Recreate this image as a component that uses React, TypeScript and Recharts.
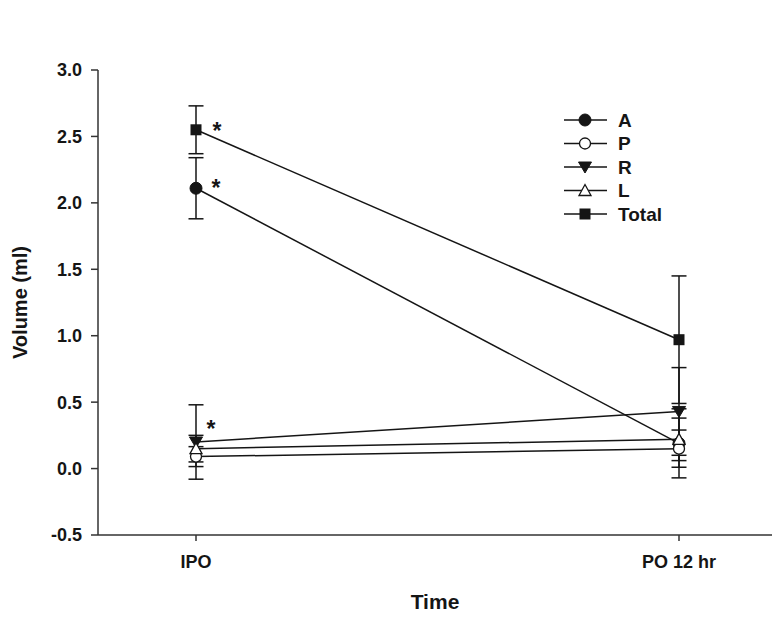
import { LineChart, Line, XAxis, YAxis, ErrorBar, Legend, LabelList } from "recharts";

// time points
const times = ["IPO", "PO 12 hr"];

// mean volumes (ml) and error values per region
const aVals = [2.11, 0.19];
const aErr = [0.23, 0.26];
const pVals = [0.09, 0.15];
const pErr = [0.075, 0.14];
const rVals = [0.2, 0.43];
const rErr = [0.28, 0.33];
const lVals = [0.15, 0.22];
const lErr = [0.1, 0.16];
const totalVals = [2.55, 0.97];
const totalErr = [0.18, 0.48];

// significance marks
const aStar = ["*", ""];
const rStar = ["*", ""];
const totalStar = ["*", ""];

const yTicks = [-0.5, 0, 0.5, 1, 1.5, 2, 2.5, 3];

const data = times.map((t, i) => ({
  time: t,
  A: aVals[i],
  AErr: aErr[i],
  AStar: aStar[i],
  P: pVals[i],
  PErr: pErr[i],
  R: rVals[i],
  RErr: rErr[i],
  RStar: rStar[i],
  L: lVals[i],
  LErr: lErr[i],
  Total: totalVals[i],
  TotalErr: totalErr[i],
  TotalStar: totalStar[i],
}));

const FONT = "'Liberation Sans', Arial, Helvetica, sans-serif";
const INK = "#151515";

type Shape = "circle" | "openCircle" | "down" | "up" | "square";

const series: { key: string; name: string; shape: Shape }[] = [
  { key: "A", name: "A", shape: "circle" },
  { key: "P", name: "P", shape: "openCircle" },
  { key: "R", name: "R", shape: "down" },
  { key: "L", name: "L", shape: "up" },
  { key: "Total", name: "Total", shape: "square" },
];

function Marker({ shape, cx, cy }: { shape: Shape; cx: number; cy: number }) {
  switch (shape) {
    case "circle":
      return <circle cx={cx} cy={cy} r={6} fill={INK} stroke={INK} strokeWidth={1} />;
    case "openCircle":
      return <circle cx={cx} cy={cy} r={5.5} fill="#fff" stroke={INK} strokeWidth={1.3} />;
    case "down":
      return (
        <path
          d={`M${cx - 6.5},${cy - 5} L${cx + 6.5},${cy - 5} L${cx},${cy + 6} Z`}
          fill={INK}
          stroke={INK}
          strokeWidth={1}
        />
      );
    case "up":
      return (
        <path
          d={`M${cx - 6},${cy + 5} L${cx + 6},${cy + 5} L${cx},${cy - 6} Z`}
          fill="#fff"
          stroke={INK}
          strokeWidth={1.3}
        />
      );
    default:
      return <rect x={cx - 5.5} y={cy - 5.5} width={11} height={11} fill={INK} />;
  }
}

const makeDot = (shape: Shape) => (props: any) => {
  const { cx, cy, index } = props;
  return (
    <g key={`${shape}-${index}`}>
      <Marker shape={shape} cx={cx} cy={cy} />
    </g>
  );
};

const starLabel = (dx: number, dy: number) => (props: any) => {
  const { x, y, value } = props;
  if (!value) return null;
  return (
    <text
      x={x + dx}
      y={y + dy + 13}
      textAnchor="middle"
      fontFamily={FONT}
      fontWeight="bold"
      fontSize={23}
      fill={INK}
    >
      {value}
    </text>
  );
};

const LegendBox = () => (
  <svg width={140} height={120}>
    {series.map((s, i) => {
      const cy = 12 + i * 23.5;
      return (
        <g key={s.key}>
          <line x1={4} x2={47} y1={cy} y2={cy} stroke={INK} strokeWidth={1.5} />
          <Marker shape={s.shape} cx={25} cy={cy} />
          <text
            x={58}
            y={cy}
            dy="0.36em"
            fontFamily={FONT}
            fontWeight="bold"
            fontSize={19}
            fill={INK}
          >
            {s.name}
          </text>
        </g>
      );
    })}
  </svg>
);

export default function App() {
  return (
    <div style={{ position: "absolute", left: 0, top: 0, background: "#fff" }}>
      <LineChart
        width={777}
        height={619}
        data={data}
        margin={{ top: 70, right: 5, bottom: 0, left: 0 }}
      >
        <XAxis
          dataKey="time"
          height={84}
          padding={{ left: 98, right: 93 }}
          stroke="#333"
          strokeWidth={1.5}
          tickSize={6}
          tickMargin={14}
          tick={{ fill: INK, fontFamily: FONT, fontWeight: "bold", fontSize: 18 }}
          label={{
            value: "Time",
            position: "insideBottom",
            offset: 10,
            fill: INK,
            fontFamily: FONT,
            fontWeight: "bold",
            fontSize: 21,
          }}
        />
        <YAxis
          width={98}
          domain={[-0.5, 3]}
          ticks={yTicks}
          tickFormatter={(v: number) => v.toFixed(1)}
          stroke="#333"
          strokeWidth={1.5}
          tickSize={7}
          tickMargin={9}
          tick={{ fill: INK, fontFamily: FONT, fontWeight: "bold", fontSize: 18 }}
          label={{
            value: "Volume (ml)",
            angle: -90,
            position: "insideLeft",
            offset: 20,
            style: { textAnchor: "middle" },
            fill: INK,
            fontFamily: FONT,
            fontWeight: "bold",
            fontSize: 20,
          }}
        />
        <Legend
          layout="vertical"
          align="center"
          verticalAlign="middle"
          content={() => <LegendBox />}
          wrapperStyle={{ position: "absolute", left: 560, top: 108, width: 140, height: 120 }}
        />
        <Line
          dataKey="A"
          name="A"
          stroke={INK}
          strokeWidth={1.5}
          dot={makeDot("circle")}
          isAnimationActive={false}
        >
          <ErrorBar dataKey="AErr" width={7.5} stroke={INK} strokeWidth={1.5} direction="y" />
          <LabelList dataKey="AStar" content={starLabel(20, -5)} />
        </Line>
        <Line
          dataKey="P"
          name="P"
          stroke={INK}
          strokeWidth={1.5}
          dot={makeDot("openCircle")}
          isAnimationActive={false}
        >
          <ErrorBar dataKey="PErr" width={7.5} stroke={INK} strokeWidth={1.5} direction="y" />
        </Line>
        <Line
          dataKey="R"
          name="R"
          stroke={INK}
          strokeWidth={1.5}
          dot={makeDot("down")}
          isAnimationActive={false}
        >
          <ErrorBar dataKey="RErr" width={7.5} stroke={INK} strokeWidth={1.5} direction="y" />
          <LabelList dataKey="RStar" content={starLabel(15, -18)} />
        </Line>
        <Line
          dataKey="L"
          name="L"
          stroke={INK}
          strokeWidth={1.5}
          dot={makeDot("up")}
          isAnimationActive={false}
        >
          <ErrorBar dataKey="LErr" width={7.5} stroke={INK} strokeWidth={1.5} direction="y" />
        </Line>
        <Line
          dataKey="Total"
          name="Total"
          stroke={INK}
          strokeWidth={1.5}
          dot={makeDot("square")}
          isAnimationActive={false}
        >
          <ErrorBar dataKey="TotalErr" width={7.5} stroke={INK} strokeWidth={1.5} direction="y" />
          <LabelList dataKey="TotalStar" content={starLabel(21, -4)} />
        </Line>
      </LineChart>
    </div>
  );
}
